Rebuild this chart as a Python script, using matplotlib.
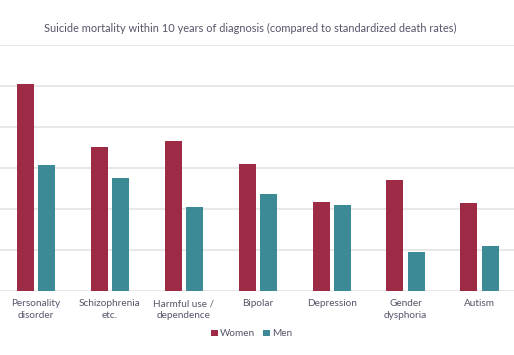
import matplotlib.pyplot as plt
import numpy as np

plt.rcParams['font.family'] = ['Lato', 'DejaVu Sans']

categories = ['Personality\ndisorder', 'Schizophrenia\netc.', 'Harmful use /\ndependence',
              'Bipolar', 'Depression', 'Gender\ndysphoria', 'Autism']
women = [25.2, 17.6, 18.3, 15.5, 10.9, 13.6, 10.8]
men = [15.4, 13.8, 10.2, 11.9, 10.5, 4.8, 5.5]

women_color = '#9e2b45'
men_color = '#3c8a96'
text_color = '#55556a'

fig = plt.figure(figsize=(5.14, 3.55), dpi=100)
ax = fig.add_axes([0, 0.180, 1, 0.693])

x = np.arange(len(categories))
bar_width = 0.23
ax.bar(x - 0.143, women, width=bar_width, color=women_color, label='Women', zorder=3)
ax.bar(x + 0.143, men, width=bar_width, color=men_color, label='Men', zorder=3)

ax.set_xlim(-0.487, 6.467)
ax.set_ylim(0, 30)
ax.set_yticks(np.arange(0, 31, 5))
ax.yaxis.grid(True, color='#e4e4e4', linewidth=1.2, zorder=0)
ax.tick_params(axis='y', left=False, labelleft=False)
ax.tick_params(axis='x', length=0, pad=6, labelsize=7.2, labelcolor=text_color)
ax.set_xticks(x, categories, linespacing=1.3)
for s in ax.spines.values():
    s.set_visible(False)

fig.text(0.487, 1 - 28 / 355, 'Suicide mortality within 10 years of diagnosis (compared to standardized death rates)',
         ha='center', va='center', fontsize=7.9, color=text_color)

fig.legend(loc='center', bbox_to_anchor=(0.49, 1 - 334 / 355), ncol=2, frameon=False,
           fontsize=7.2, labelcolor=text_color, handlelength=0.65, handleheight=0.65,
           handletextpad=0.25, columnspacing=0.8)

fig.savefig('out.png', dpi=100)
